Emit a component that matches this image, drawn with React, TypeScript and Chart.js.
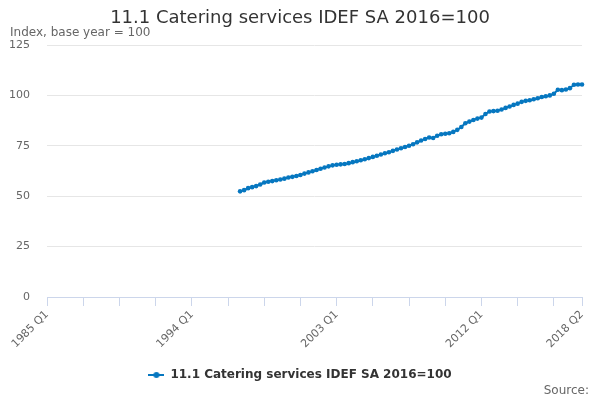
import React, { useEffect, useRef } from 'react';
import { Chart, registerables } from 'chart.js';

Chart.register(...registerables);

// ---- data ----
const FIRST_YEAR = 1985;
const LAST_YEAR = 2018;
const LAST_QUARTER = 2;

const categories: string[] = [];
for (let y = FIRST_YEAR; y <= LAST_YEAR; y++) {
  for (let q = 1; q <= 4; q++) {
    if (y === LAST_YEAR && q > LAST_QUARTER) break;
    categories.push(`${y} Q${q}`);
  }
}

const seriesName = '11.1 Catering services IDEF SA 2016=100';
const seriesStart = '1997 Q1';
const seriesValues: number[] = [
  52.4, 53.0, 54.0, 54.5, 55.0, 55.8, 56.8, 57.2, 57.5, 57.9,
  58.3, 58.7, 59.3, 59.6, 60.0, 60.5, 61.2, 61.8, 62.4, 63.0,
  63.6, 64.2, 64.8, 65.3, 65.6, 65.8, 66.0, 66.4, 66.9, 67.3,
  67.8, 68.3, 68.9, 69.5, 70.1, 70.7, 71.3, 71.8, 72.5, 73.2,
  73.8, 74.4, 75.0, 75.8, 76.7, 77.6, 78.4, 79.1, 78.9, 80.0,
  80.7, 81.0, 81.2, 81.9, 82.9, 84.3, 86.2, 87.0, 87.8, 88.5,
  89.0, 90.8, 92.0, 92.2, 92.4, 93.0, 93.8, 94.5, 95.3, 95.9,
  96.8, 97.3, 97.6, 98.1, 98.6, 99.2, 99.6, 100.0, 100.8, 102.8,
  102.6, 102.9, 103.6, 105.3, 105.4, 105.4,
];
const yTickValues: number[] = [0, 25, 50, 75, 100, 125];
const xLabelTicks: string[] = ['1985 Q1', '1994 Q1', '2003 Q1', '2012 Q1', '2018 Q2'];
const xTickEvery = 9;

const FONT = 'DejaVu Sans';
const LINE_COLOR = '#0677c0';

function makeLegendSymbol(): HTMLCanvasElement {
  const c = document.createElement('canvas');
  c.width = 16;
  c.height = 8;
  const g = c.getContext('2d')!;
  g.strokeStyle = LINE_COLOR;
  g.lineWidth = 2;
  g.beginPath();
  g.moveTo(0, 4);
  g.lineTo(16, 4);
  g.stroke();
  g.fillStyle = LINE_COLOR;
  g.beginPath();
  g.arc(8, 4, 3, 0, Math.PI * 2);
  g.fill();
  return c;
}

export default function App() {
  const ref = useRef<HTMLCanvasElement | null>(null);

  useEffect(() => {
    if (!ref.current) return;
    const startIdx = categories.indexOf(seriesStart);
    const data = categories.map((_, i) =>
      i >= startIdx && i - startIdx < seriesValues.length ? seriesValues[i - startIdx] : null
    );
    const lastIdx = categories.length - 1;
    const symbol = makeLegendSymbol();

    const sourcePlugin = {
      id: 'sourceText',
      afterDraw(chart: any) {
        const ctx = chart.ctx;
        ctx.save();
        ctx.font = `12px "${FONT}"`;
        ctx.fillStyle = '#666666';
        ctx.textAlign = 'right';
        ctx.textBaseline = 'middle';
        ctx.fillText('Source:', 589, 391);
        ctx.restore();
      },
    };

    const chart = new Chart(ref.current, {
      type: 'line',
      data: {
        labels: categories,
        datasets: [
          {
            label: seriesName,
            data,
            borderColor: LINE_COLOR,
            backgroundColor: LINE_COLOR,
            borderWidth: 2,
            pointRadius: 2.3,
            pointBorderWidth: 0,
            pointBackgroundColor: LINE_COLOR,
            spanGaps: false,
            tension: 0,
          },
        ],
      },
      options: {
        responsive: false,
        animation: false,
        layout: { padding: { left: 10, right: 10, top: 0, bottom: 9 } },
        plugins: {
          title: {
            display: true,
            text: '11.1 Catering services IDEF SA 2016=100',
            color: '#333333',
            font: { family: FONT, size: 18, weight: 'normal', lineHeight: 1 },
            padding: { top: 9, bottom: 0 },
          },
          subtitle: {
            display: true,
            text: 'Index, base year = 100',
            align: 'start',
            color: '#666666',
            font: { family: FONT, size: 12, weight: 'normal', lineHeight: 1 },
            padding: { top: 0, bottom: 6 },
          },
          legend: {
            position: 'bottom',
            labels: {
              color: '#333333',
              font: { family: FONT, size: 12, weight: 'bold' },
              usePointStyle: true,
              pointStyleWidth: 16,
              padding: 10,
              generateLabels: (c: any) =>
                c.data.datasets.map((ds: any, i: number) => ({
                  text: ds.label,
                  fillStyle: LINE_COLOR,
                  strokeStyle: LINE_COLOR,
                  lineWidth: 0,
                  pointStyle: symbol,
                  datasetIndex: i,
                  hidden: false,
                  fontColor: '#333333',
                })),
            },
          },
          tooltip: { enabled: false },
        },
        scales: {
          x: {
            type: 'category',
            grid: {
              display: true,
              drawOnChartArea: false,
              drawTicks: true,
              tickLength: 9,
              color: (ctx: any) =>
                ctx.index % xTickEvery === 0 || ctx.index === lastIdx ? '#ccd6eb' : 'rgba(0,0,0,0)',
            },
            border: { display: true, color: '#ccd6eb', width: 1 },
            ticks: {
              autoSkip: false,
              maxRotation: 45,
              minRotation: 45,
              padding: 2,
              color: '#666666',
              font: { family: FONT, size: 11 },
              callback: function (this: any, value: any) {
                const lab = this.getLabelForValue(value);
                return xLabelTicks.includes(lab) ? lab : '';
              },
            },
            afterFit: (s: any) => {
              s.height = 62;
            },
          },
          y: {
            type: 'linear',
            min: 0,
            max: 125,
            afterBuildTicks: (s: any) => {
              s.ticks = yTickValues.map((v) => ({ value: v }));
            },
            grid: { color: '#e6e6e6', drawTicks: false },
            border: { display: false },
            ticks: {
              padding: 17,
              color: '#666666',
              font: { family: FONT, size: 11 },
            },
            afterFit: (s: any) => {
              s.width = 37;
            },
          },
          yRight: {
            type: 'linear',
            position: 'right',
            display: true,
            grid: { display: false },
            border: { display: false },
            ticks: { display: false },
            afterFit: (s: any) => {
              s.width = 8;
            },
          },
        },
      },
      plugins: [sourcePlugin],
    } as any);

    return () => chart.destroy();
  }, []);

  return (
    <div style={{ position: 'fixed', left: 0, top: 0, width: 600, height: 400, background: '#ffffff' }}>
      <canvas ref={ref} width={600} height={400} style={{ display: 'block', width: 600, height: 400 }} />
    </div>
  );
}
